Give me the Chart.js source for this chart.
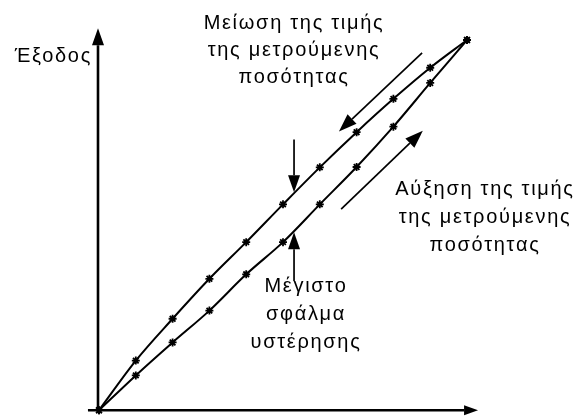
<!DOCTYPE html>
<html>
<head>
<meta charset="utf-8">
<script src="https://cdn.jsdelivr.net/npm/chart.js@4"></script>
<style>
  html, body { margin: 0; padding: 0; background: #fff; }
  #wrap { width: 581px; height: 416px; }
</style>
</head>
<body>
<div id="wrap"><canvas id="chart" width="581" height="416"></canvas></div>
<script>
// measured input (arbitrary units 0..10)
const inputValues = [0, 1, 2, 3, 4, 5, 6, 7, 8, 9, 10];
// output while the measured quantity decreases (upper branch)
const decreasingOutput = [0, 1.34, 2.47, 3.55, 4.54, 5.56, 6.56, 7.51, 8.41, 9.25, 10];
// output while the measured quantity increases (lower branch)
const increasingOutput = [0, 0.94, 1.83, 2.69, 3.67, 4.54, 5.56, 6.57, 7.66, 8.84, 10];

const toPoints = ys => inputValues.map((x, i) => ({ x: x, y: ys[i] }));

const labels = {
  yAxis: 'Έξοδος',
  decrease: ['Μείωση της τιμής', 'της μετρούμενης', 'ποσότητας'],
  increase: ['Αύξηση της τιμής', 'της μετρούμενης', 'ποσότητας'],
  maxError: ['Μέγιστο', 'σφάλμα', 'υστέρησης']
};

function arrow(ctx, x1, y1, x2, y2, len, half, lw) {
  const a = Math.atan2(y2 - y1, x2 - x1);
  const bx = x2 - len * Math.cos(a), by = y2 - len * Math.sin(a);
  ctx.lineWidth = lw;
  ctx.beginPath();
  ctx.moveTo(x1, y1);
  ctx.lineTo(bx, by);
  ctx.stroke();
  ctx.beginPath();
  ctx.moveTo(x2, y2);
  ctx.lineTo(bx + half * Math.sin(a), by - half * Math.cos(a));
  ctx.lineTo(bx - half * Math.sin(a), by + half * Math.cos(a));
  ctx.closePath();
  ctx.fill();
}

function textBlock(ctx, lines, cx, y0, step) {
  lines.forEach((t, i) => ctx.fillText(t, cx, y0 + i * step));
}

const decorPlugin = {
  id: 'decor',
  afterDatasetsDraw(chart) {
    const ctx = chart.ctx;
    const xs = chart.scales.x, ys = chart.scales.y;
    const px = v => xs.getPixelForValue(v), py = v => ys.getPixelForValue(v);
    ctx.save();
    ctx.strokeStyle = '#000';
    ctx.fillStyle = '#000';
    ctx.lineCap = 'butt';

    // axes with arrow heads
    const ox = px(0) - 1, oy = py(0);
    arrow(ctx, ox, oy + 1, ox, py(10.32), 17, 6, 2.6);
    arrow(ctx, px(-0.3), oy, px(10.3), oy, 14, 5, 2.6);

    // maximum hysteresis error markers
    arrow(ctx, px(5.3), py(7.31), px(5.3), py(5.89), 17, 6, 1.7);
    arrow(ctx, px(5.3), py(3.49), px(5.3), py(4.81), 17, 6, 1.7);

    // direction arrows
    arrow(ctx, px(8.78), py(9.65), px(6.52), py(7.53), 18, 6.5, 1.7);
    arrow(ctx, px(6.58), py(5.43), px(8.80), py(7.55), 18, 6.5, 1.7);

    ctx.font = '20px "Liberation Sans", Arial, sans-serif';
    ctx.letterSpacing = '1.7px';
    ctx.textBaseline = 'alphabetic';
    ctx.textAlign = 'right';
    ctx.fillText(labels.yAxis, 92, 62);
    ctx.textAlign = 'center';
    textBlock(ctx, labels.decrease, 294, 29, 27);
    textBlock(ctx, labels.increase, 485, 195, 28);
    textBlock(ctx, labels.maxError, 306, 292, 28);
    ctx.restore();
  }
};

const branch = (ys) => ({
  data: toPoints(ys),
  showLine: true,
  borderColor: '#000',
  backgroundColor: '#000',
  borderWidth: 2,
  cubicInterpolationMode: 'monotone',
  pointStyle: 'star',
  pointRadius: 4,
  pointBorderWidth: 1.8,
  pointBorderColor: '#000',
  clip: false
});

new Chart(document.getElementById('chart'), {
  type: 'scatter',
  data: {
    datasets: [branch(decreasingOutput), branch(increasingOutput)]
  },
  options: {
    responsive: false,
    devicePixelRatio: 1,
    animation: false,
    layout: { padding: { left: 99, right: 114, top: 40, bottom: 4 } },
    plugins: { legend: { display: false }, tooltip: { enabled: false } },
    scales: {
      x: { type: 'linear', min: 0, max: 10, display: false },
      y: { type: 'linear', min: 0, max: 10, display: false }
    }
  },
  plugins: [decorPlugin]
});
</script>
</body>
</html>
